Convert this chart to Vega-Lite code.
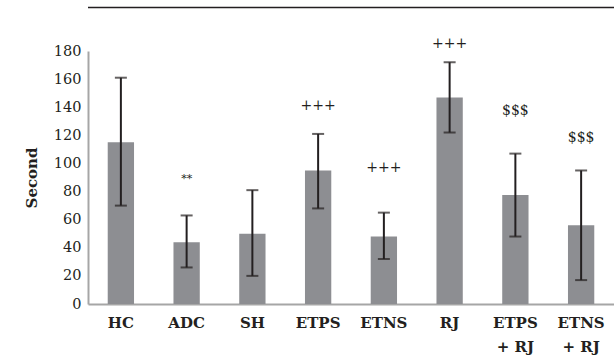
{
  "$schema": "https://vega.github.io/schema/vega-lite/v6.json",
  "width": 526,
  "height": 253,
  "autosize": {"type": "none"},
  "padding": {"left": 88, "top": 51, "right": 0, "bottom": 56},
  "background": "white",
  "config": {
    "view": {"stroke": null},
    "font": "DejaVu Serif",
    "axis": {
      "labelFont": "DejaVu Serif",
      "labelColor": "#231f20",
      "titleFont": "DejaVu Serif",
      "titleColor": "#231f20",
      "domainColor": "#a6a6a6",
      "domainWidth": 2,
      "ticks": false,
      "grid": false,
      "labelOverlap": false
    },
    "axisY": {"labelFontSize": 14.5, "labelPadding": 7, "titleFontSize": 15, "titleFontWeight": "bold", "titlePadding": 14},
    "axisX": {"labelFontSize": 15, "labelFontWeight": "bold", "labelPadding": 11, "labelLineHeight": 24, "labelBaseline": "top", "labelAngle": 0}
  },
  "data": {
    "values": [
      {"group": "HC", "mean": 115, "low": 70, "high": 161, "sig": "", "sigY": 0},
      {"group": "ADC", "mean": 44, "low": 26, "high": 63, "sig": "**", "sigY": 89},
      {"group": "SH", "mean": 50, "low": 20, "high": 81, "sig": "", "sigY": 0},
      {"group": "ETPS", "mean": 95, "low": 68, "high": 121, "sig": "+++", "sigY": 141},
      {"group": "ETNS", "mean": 48, "low": 32, "high": 65, "sig": "+++", "sigY": 97},
      {"group": "RJ", "mean": 147, "low": 122, "high": 172, "sig": "+++", "sigY": 185},
      {"group": "ETPS + RJ", "mean": 77.5, "low": 48, "high": 107, "sig": "$$$", "sigY": 137},
      {"group": "ETNS + RJ", "mean": 56, "low": 17, "high": 95, "sig": "$$$", "sigY": 118}
    ]
  },
  "encoding": {
    "x": {
      "field": "group",
      "type": "nominal",
      "sort": null,
      "scale": {"paddingInner": 0.6, "paddingOuter": 0.3},
      "axis": {
        "title": null,
        "labelExpr": "split(replace(datum.value, ' + ', '|+ '), '|')"
      }
    }
  },
  "layer": [
    {
      "mark": {"type": "bar", "color": "#8d8e92"},
      "encoding": {
        "y": {
          "field": "mean",
          "type": "quantitative",
          "scale": {"domain": [0, 180], "nice": false},
          "axis": {"values": [0, 20, 40, 60, 80, 100, 120, 140, 160, 180], "title": "Second"}
        }
      }
    },
    {
      "mark": {"type": "rule", "color": "#231f20", "strokeWidth": 2},
      "encoding": {
        "y": {"field": "low", "type": "quantitative", "axis": {"values": [0, 20, 40, 60, 80, 100, 120, 140, 160, 180], "title": "Second"}},
        "y2": {"field": "high"}
      }
    },
    {
      "mark": {"type": "tick", "color": "#231f20", "size": 12, "thickness": 2},
      "encoding": {"y": {"field": "low", "type": "quantitative", "axis": {"values": [0, 20, 40, 60, 80, 100, 120, 140, 160, 180], "title": "Second"}}}
    },
    {
      "mark": {"type": "tick", "color": "#231f20", "size": 12, "thickness": 2},
      "encoding": {"y": {"field": "high", "type": "quantitative", "axis": {"values": [0, 20, 40, 60, 80, 100, 120, 140, 160, 180], "title": "Second"}}}
    },
    {
      "transform": [{"filter": "datum.sig != '' && datum.sig != '**'"}],
      "mark": {"type": "text", "font": "DejaVu Serif", "fontSize": 14, "color": "#231f20", "baseline": "middle"},
      "encoding": {
        "y": {"field": "sigY", "type": "quantitative", "axis": {"values": [0, 20, 40, 60, 80, 100, 120, 140, 160, 180], "title": "Second"}},
        "text": {"field": "sig"}
      }
    },
    {
      "transform": [{"filter": "datum.sig == '**'"}],
      "mark": {"type": "text", "font": "DejaVu Serif", "fontSize": 11, "color": "#231f20", "baseline": "middle"},
      "encoding": {
        "y": {"field": "sigY", "type": "quantitative", "axis": {"values": [0, 20, 40, 60, 80, 100, 120, 140, 160, 180], "title": "Second"}},
        "text": {"field": "sig"}
      }
    },
    {
      "data": {"values": [{"top": 211}]},
      "mark": {"type": "rule", "color": "#231f20", "strokeWidth": 1.5},
      "encoding": {"y": {"field": "top", "type": "quantitative", "axis": {"values": [0, 20, 40, 60, 80, 100, 120, 140, 160, 180], "title": "Second"}}, "x": null}
    }
  ]
}
